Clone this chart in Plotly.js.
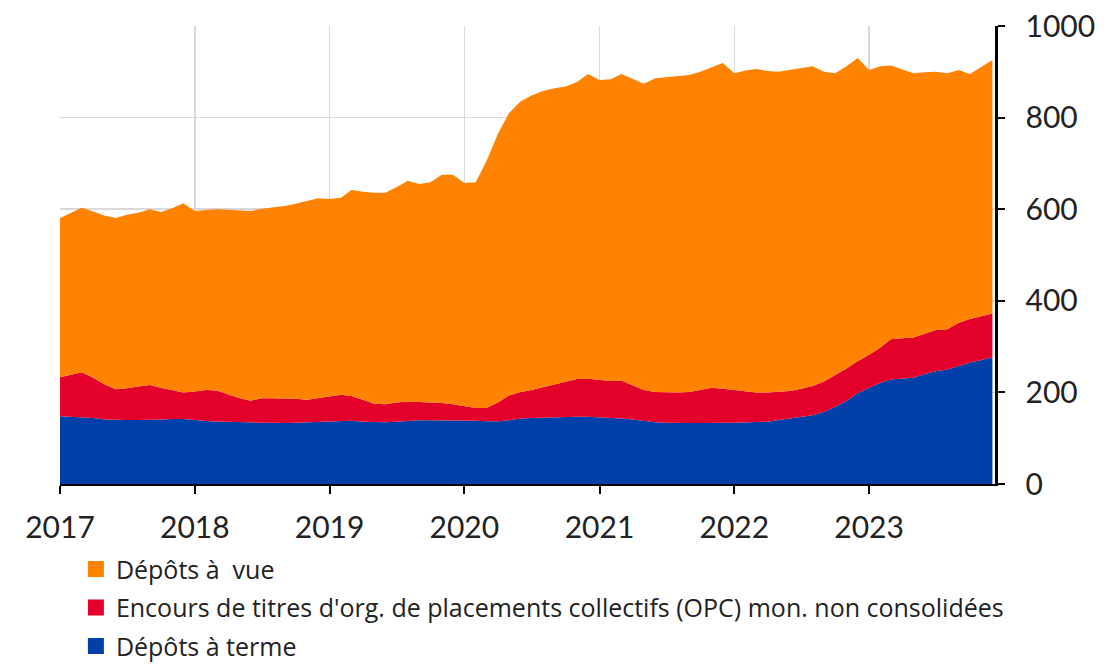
<!DOCTYPE html>
<html>
<head>
<meta charset="utf-8">
<script src="https://cdn.plot.ly/plotly-3.0.1.min.js"></script>
<style>
html,body{margin:0;padding:0;background:#fff;}
#chart{width:1112px;height:666px;}
</style>
</head>
<body>
<div id="chart"></div>
<script>
// Monthly series, Jan 2017 – Dec 2023
const startYear = 2017;
const nMonths = 84;

const seriesNames = [
  "Dépôts à terme",
  "Encours de titres d'org. de placements collectifs (OPC) mon. non consolidées",
  "Dépôts à  vue"
];

// Dépôts à terme (bottom, blue)
const depotsTerme = [
  148,147,146,144,141,140,140,140,140,141,142,142,
  140,138,136,136,135,135,134,134,133,134,135,136,
  137,138,138,136,135,135,136,138,139,139,139,139,
  138,138,137,137,139,143,144,145,146,147,147,147,
  146,145,143,141,138,135,134,133,133,133,134,134,
  134,135,135,136,140,143,146,150,158,168,182,198,
  210,221,228,230,232,240,246,250,258,265,271,277
];

// Encours de titres d'OPC monétaires (middle, red)
const titresOPC = [
  85,91,98,88,77,67,69,73,76,69,63,58,
  62,67,68,60,53,47,53,53,54,52,49,51,
  54,57,54,48,40,39,42,42,40,39,38,35,
  32,28,29,41,54,58,61,66,72,77,82,83,
  82,80,83,74,67,66,66,67,68,72,76,74,
  71,68,65,64,61,60,62,64,66,69,70,70,
  72,77,88,88,88,88,90,88,94,95,95,95
];

// Dépôts à vue (top, orange)
const depotsVue = [
  348,354,359,363,368,374,379,379,384,384,397,413,
  394,393,396,403,409,414,414,417,420,426,434,437,
  431,430,450,454,461,462,470,482,476,481,498,501,
  487,493,539,587,617,634,643,647,646,644,649,665,
  654,659,669,669,669,685,688,690,692,695,700,711,
  692,700,706,702,699,701,700,698,676,660,660,662,
  622,614,598,588,577,571,564,559,552,535,544,554
];

const tickYears = [2017,2018,2019,2020,2021,2022,2023];

const colors = ["#0040A8", "#E3002B", "#FF8200"];

// month dates
const dates = [];
for (let i = 0; i < nMonths; i++) {
  const y = startYear + Math.floor(i / 12);
  const m = (i % 12) + 1;
  dates.push(y + "-" + String(m).padStart(2, "0") + "-01");
}

const values = [depotsTerme, titresOPC, depotsVue];

const traces = [];
values.forEach((v, k) => {
  traces.push({
    type: "scatter",
    mode: "lines",
    x: dates,
    y: v,
    stackgroup: "one",
    line: {width: 0, color: colors[k]},
    fillcolor: colors[k],
    name: seriesNames[k],
    showlegend: false,
    hoverinfo: "x+y+name"
  });
});
// legend entries with square symbols, order top-to-bottom: vue, OPC, terme
[2, 1, 0].forEach((k, idx) => {
  traces.push({
    type: "scatter",
    mode: "markers",
    x: [null],
    y: [null],
    name: seriesNames[k],
    marker: {symbol: "square", size: 17, color: colors[k]},
    legendgroup: "g" + idx,
    legendrank: idx + 1,
    showlegend: true
  });
});

const fontFam = "Lato, 'Open Sans', sans-serif";
const legendFam = "'Open Sans', Lato, sans-serif";

const layout = {
  width: 1112,
  height: 666,
  margin: {l: 60, r: 117, t: 26, b: 182, pad: 0, autoexpand: false},
  paper_bgcolor: "#ffffff",
  plot_bgcolor: "#ffffff",
  font: {family: fontFam, color: "#222222"},
  showlegend: true,
  legend: {
    x: 0.017,
    xanchor: "left",
    y: -0.136,
    yanchor: "top",
    orientation: "v",
    traceorder: "grouped",
    tracegroupgap: 3,
    font: {family: legendFam, size: 25, color: "#222222"},
    bgcolor: "rgba(0,0,0,0)"
  },
  xaxis: {
    type: "date",
    range: ["2017-01-01", "2023-12-08"],
    tickmode: "array",
    tickvals: tickYears.map(y => y + "-01-01"),
    ticktext: tickYears.map(String),
    ticks: "outside",
    ticklen: 8,
    tickwidth: 2,
    tickcolor: "#000000",
    showline: true,
    linecolor: "#000000",
    linewidth: 2,
    showgrid: true,
    gridcolor: "#d9d9d9",
    gridwidth: 1.5,
    zeroline: false,
    ticklabelstandoff: 8,
    tickfont: {family: fontFam, size: 30, color: "#222222"},
    fixedrange: true
  },
  yaxis: {
    side: "right",
    range: [0, 1000],
    tick0: 0,
    dtick: 200,
    ticks: "outside",
    ticklen: 7,
    tickwidth: 2,
    tickcolor: "#000000",
    showline: true,
    linecolor: "#000000",
    linewidth: 2.5,
    showgrid: true,
    gridcolor: "#d9d9d9",
    gridwidth: 1.5,
    zeroline: false,
    ticklabelstandoff: 15,
    tickfont: {family: fontFam, size: 30, color: "#222222"},
    fixedrange: true
  }
};

Plotly.newPlot("chart", traces, layout, {displayModeBar: false, staticPlot: true});
</script>
</body>
</html>
